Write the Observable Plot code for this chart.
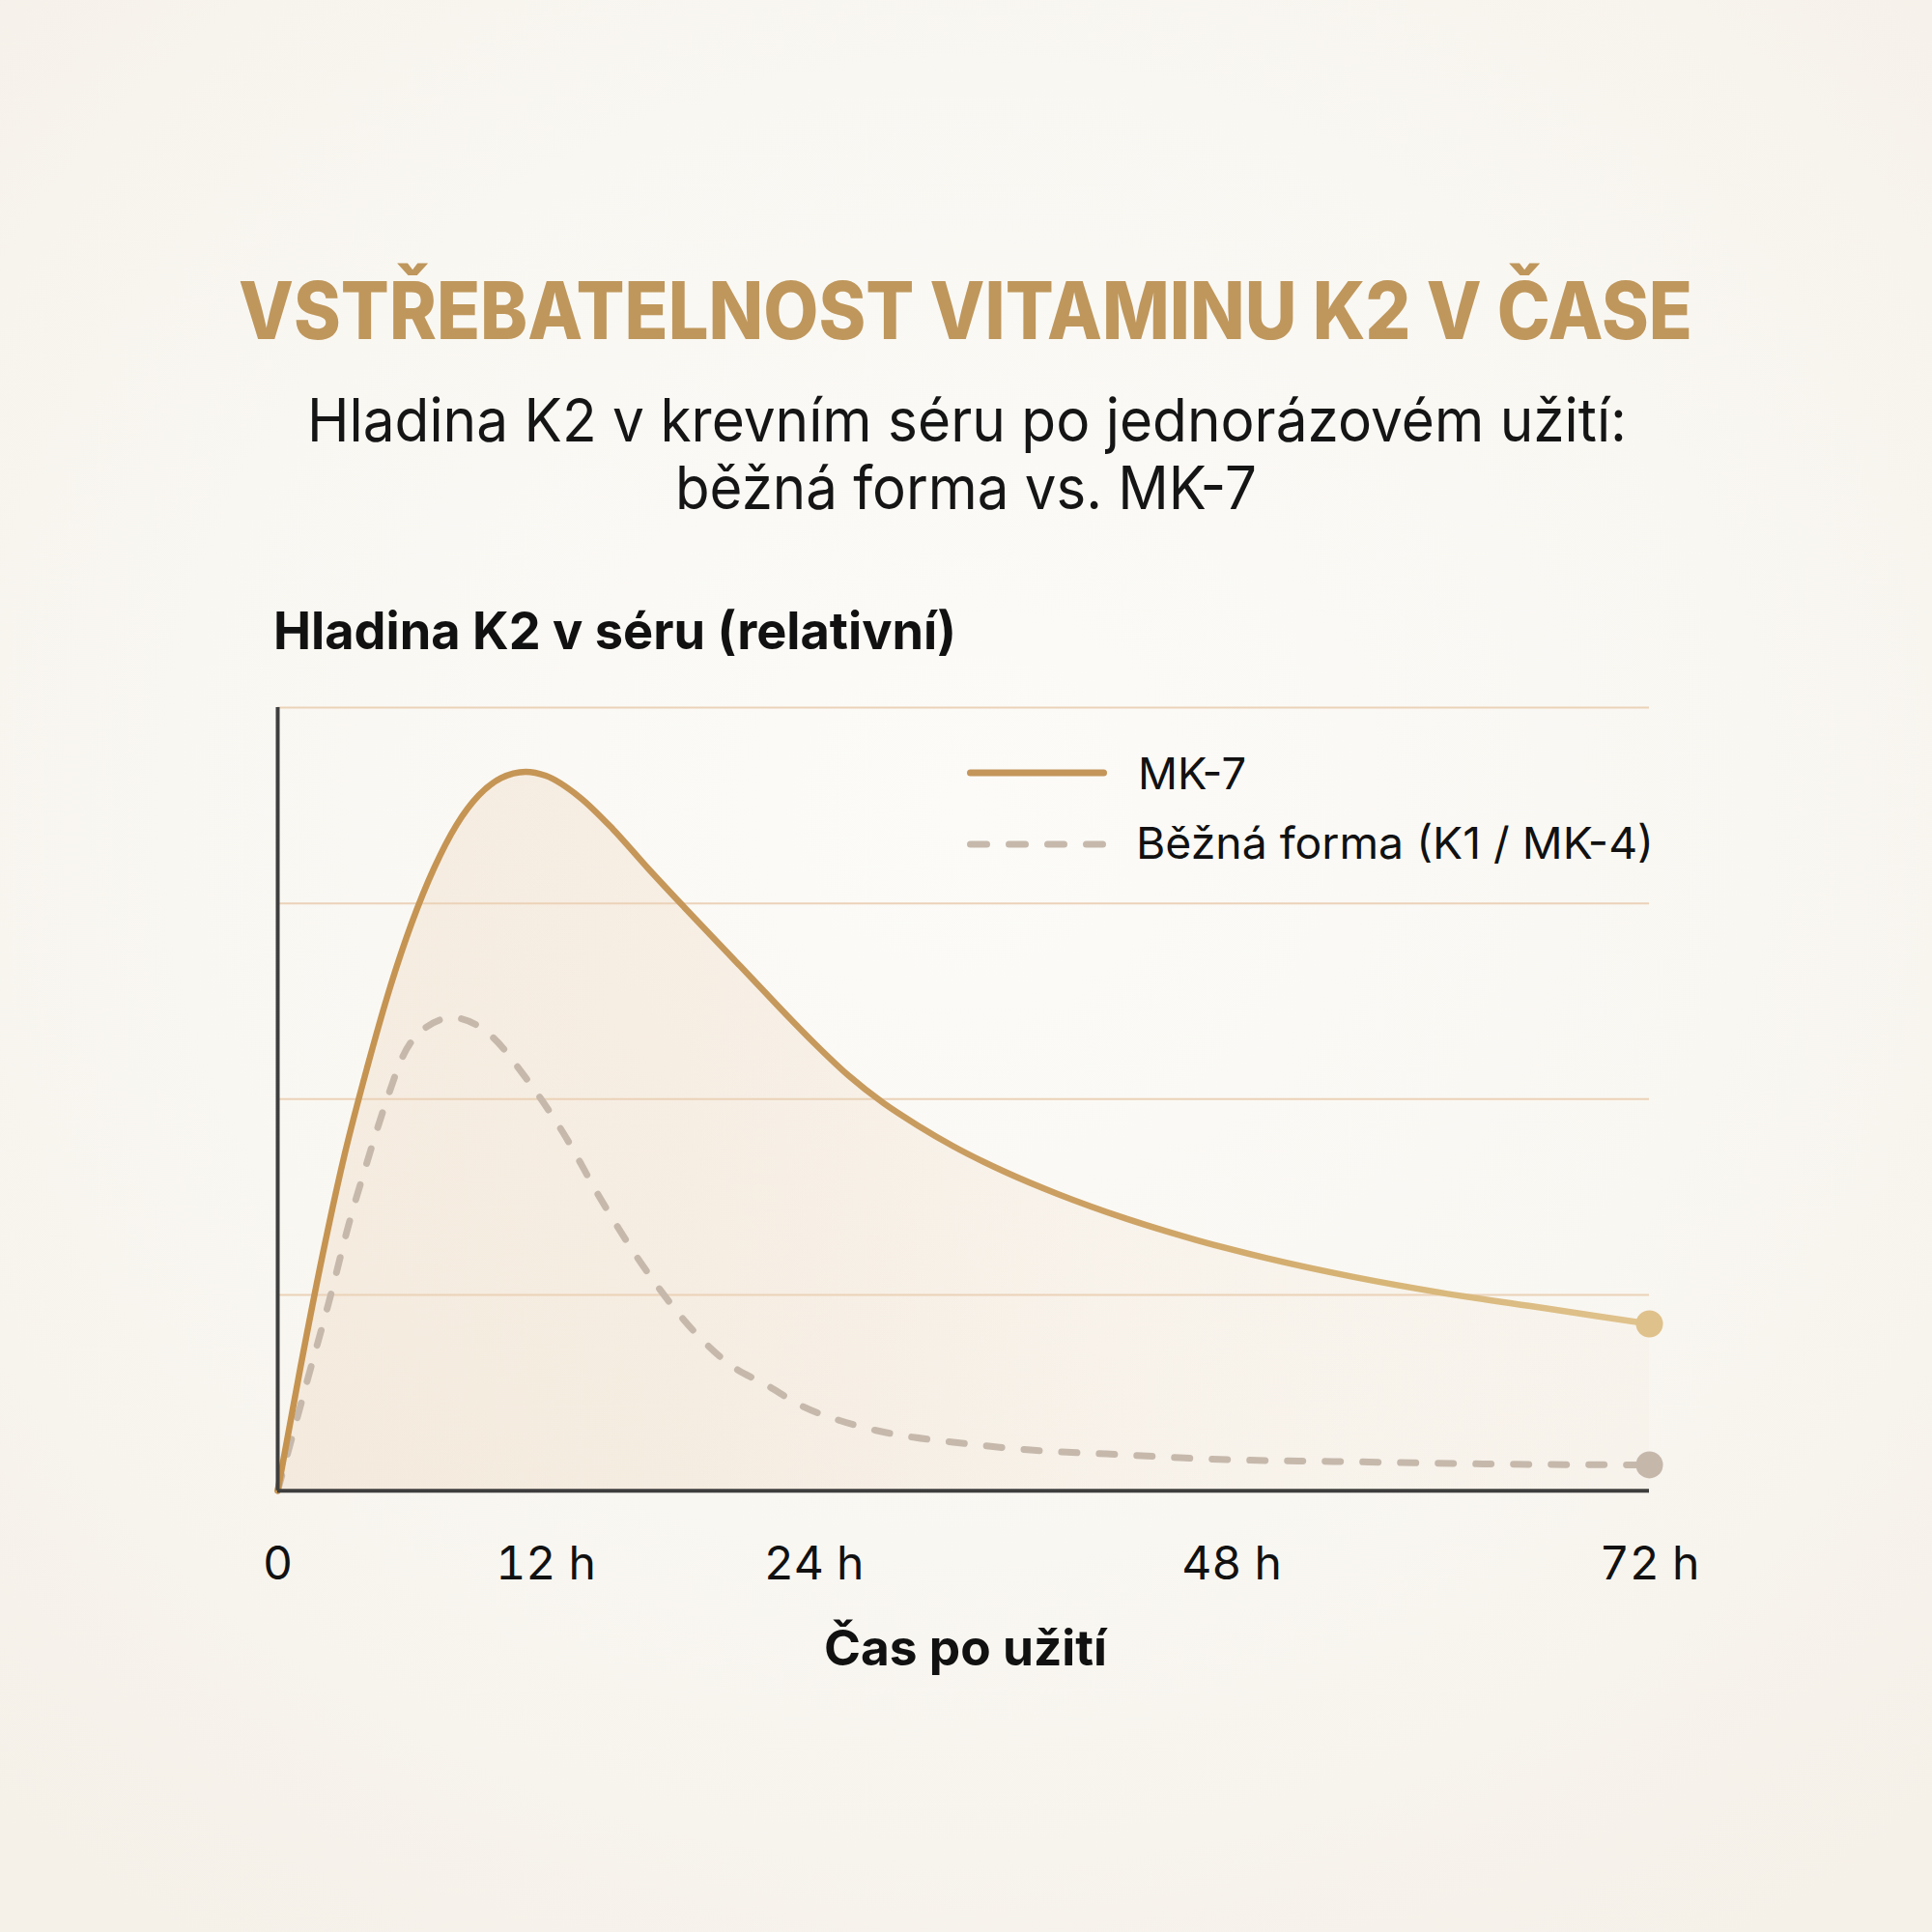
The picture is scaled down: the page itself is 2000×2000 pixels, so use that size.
<!DOCTYPE html>
<html>
<head>
<meta charset="utf-8">
<script src="https://cdn.jsdelivr.net/npm/d3@7"></script>
<script src="https://cdn.jsdelivr.net/npm/@observablehq/plot@0.6"></script>
<style>
  html, body { margin: 0; padding: 0; }
  body { width: 2000px; height: 2000px; overflow: hidden; font-family: Inter, "Noto Sans", sans-serif; }
  #page { position: relative; width: 2000px; height: 2000px;
    background: radial-gradient(ellipse 75% 70% at 50% 42%, #FCFBF8 0%, #F9F7F2 55%, #F5F0E8 100%); }
  .txt { position: absolute; white-space: nowrap; line-height: 1.2; transform-origin: 0 0; }
  #chart { position: absolute; left: 0; top: 600px; }
</style>
</head>
<body>
<div id="page">
  <div id="title" class="txt" style="font-weight:800;color:#BF975C;">VSTŘEBATELNOST VITAMINU K2 V ČASE</div>
  <div id="sub1" class="txt" style="font-weight:400;color:#151515;">Hladina K2 v krevním séru po jednorázovém užití:</div>
  <div id="sub2" class="txt" style="font-weight:400;color:#151515;">běžná forma vs. MK-7</div>
  <div id="ytitle" class="txt" style="font-weight:700;color:#111;">Hladina K2 v séru (relativní)</div>
  <div id="chart"></div>
  <div id="xtitle" class="txt" style="font-weight:700;color:#111;">Čas po užití</div>
  <div id="leg1" class="txt" style="font-weight:400;color:#111;"></div>
  <div id="leg2" class="txt" style="font-weight:400;color:#111;"></div>
</div>
<script>
// ---- data ----
const mk7Hours = [0, 1, 2, 3, 4, 5, 6, 7, 8, 9, 10, 11.1, 12, 13.5, 15, 16.6, 18.2, 20, 21.5, 23, 24, 26, 28, 30, 32, 35, 38, 42, 46, 50, 55, 60, 66, 72];
const mk7Level = [0, 15.5, 30, 43, 54, 64, 72.5, 79.5, 85, 88.8, 91, 91.8, 91.3, 88.6, 84.5, 79.4, 74.5, 69.1, 64.6, 60.1, 57.2, 53.0, 49.5, 46.6, 44.0, 40.7, 37.9, 34.7, 32.0, 29.7, 27.3, 25.3, 23.3, 21.3];

const commonHours = [0, 1.27, 2.42, 3.14, 3.94, 4.87, 5.59, 6.6, 7.83, 9.63, 10.93, 12.8, 14.53, 16.55, 18.85, 20.29, 21.88, 23.47, 25.44, 27.57, 29.79, 32.01, 36.45, 40.8, 47.37, 55, 63.3, 72];
const commonLevel = [0, 13.5, 25.5, 33.6, 41.4, 49.8, 55.4, 59.1, 60.4, 57.9, 53.4, 45.6, 36.9, 27.9, 19.7, 16.0, 13.5, 10.8, 9.0, 7.7, 6.8, 6.2, 5.2, 4.7, 4.0, 3.7, 3.4, 3.3];

const tickHours = [0, 12, 24, 48, 72];
const tickLabels = ["0", "12 h", "24 h", "48 h", "72 h"];
const gridLevels = [25, 50, 75, 100];
const seriesNames = ["MK-7", "Běžná forma (K1 / MK-4)"];

const mk7 = mk7Hours.map((h, i) => ({hour: h, level: mk7Level[i]}));
const common = commonHours.map((h, i) => ({hour: h, level: commonLevel[i]}));

const gold = "#C4965A";
const taupe = "#C6B9AC";

const chart = Plot.plot({
  width: 2000,
  height: 1200,
  marginLeft: 287, marginRight: 293, marginTop: 132, marginBottom: 257,
  x: {type: "linear", domain: [0, 24, 72], range: [287, 842, 1707], axis: null, label: null},
  y: {domain: [0, 100], range: [942.7, 132], axis: null, label: null},
  style: {background: "transparent", fontFamily: "Inter, 'Noto Sans', sans-serif", color: "#111", overflow: "visible"},
  marks: [
    Plot.areaY(mk7, {x: "hour", y: "level", curve: "monotone-x", fill: "url(#areagrad)"}),
    Plot.gridY(gridLevels, {stroke: "#EBD2B8", strokeOpacity: 1, strokeWidth: 2}),
    Plot.line(common, {x: "hour", y: "level", curve: "monotone-x", stroke: taupe, strokeWidth: 7, strokeDasharray: "16,23", strokeLinecap: "round"}),
    Plot.line(mk7, {x: "hour", y: "level", curve: "monotone-x", stroke: "url(#mk7grad)", strokeWidth: 6.5, strokeLinecap: "round"}),
    Plot.dot(mk7, Plot.selectLast({x: "hour", y: "level", r: 14, fill: "#DFC18B", stroke: "none"})),
    Plot.dot(common, Plot.selectLast({x: "hour", y: "level", r: 14, fill: "#C5B8AB", stroke: "none"})),
    Plot.ruleX([0], {y1: 0, y2: 100, stroke: "#3E3E3E", strokeWidth: 4}),
    Plot.ruleY([0], {stroke: "#3E3E3E", strokeWidth: 4}),
    Plot.axisX(tickHours, {
      tickFormat: d => tickLabels[tickHours.indexOf(d)],
      tickSize: 0, tickPadding: 57, fontSize: 48, fill: "#111", label: null
    })
  ]
});

// gradients for the MK-7 stroke and its area
const ns = "http://www.w3.org/2000/svg";
const defs = document.createElementNS(ns, "defs");
defs.innerHTML = `<linearGradient id="mk7grad" gradientUnits="userSpaceOnUse" x1="287" y1="0" x2="1707" y2="0">
  <stop offset="0" stop-color="#C6934F"/>
  <stop offset="0.35" stop-color="#C5985C"/>
  <stop offset="0.6" stop-color="#CCA062"/>
  <stop offset="0.8" stop-color="#D7B577"/>
  <stop offset="1" stop-color="#E0C38E"/>
</linearGradient>
<linearGradient id="areagrad" gradientUnits="userSpaceOnUse" x1="287" y1="0" x2="1707" y2="0">
  <stop offset="0" stop-color="#E8C6A4" stop-opacity="0.24"/>
  <stop offset="0.3" stop-color="#E8C6A4" stop-opacity="0.22"/>
  <stop offset="0.6" stop-color="#E8C6A4" stop-opacity="0.12"/>
  <stop offset="1" stop-color="#E8C6A4" stop-opacity="0.06"/>
</linearGradient>`;
chart.insertBefore(defs, chart.firstChild);
document.getElementById("chart").appendChild(chart);

// legend swatches (SVG overlay)
const leg = document.createElementNS(ns, "svg");
leg.setAttribute("width", 2000); leg.setAttribute("height", 2000);
leg.style.position = "absolute"; leg.style.left = "0"; leg.style.top = "0"; leg.style.pointerEvents = "none";
leg.innerHTML = `<line x1="1004.5" x2="1142.5" y1="800" y2="800" stroke="${gold}" stroke-width="7" stroke-linecap="round"/>
<line x1="1004.5" x2="1145" y1="874" y2="874" stroke="${taupe}" stroke-width="7" stroke-linecap="round" stroke-dasharray="17,23"/>`;
document.getElementById("page").appendChild(leg);

document.getElementById("leg1").textContent = seriesNames[0];
document.getElementById("leg2").textContent = seriesNames[1];

// text placement: font size from cap height, footprint width via scaleX
function place(id, {x, anchor = "start", baseline, cap, width}) {
  const el = document.getElementById(id);
  el.style.fontSize = (cap / 0.727) + "px";
  el.style.left = "0px"; el.style.top = "0px";
  let w = el.getBoundingClientRect().width;
  let s = 1;
  if (width) {
    s = width / w;
    if (s < 0.9 || s > 1.1) {
      const c = Math.max(0.9, Math.min(1.1, s));
      el.style.fontSize = (cap / 0.727) * (s / c) + "px";
      w = el.getBoundingClientRect().width;
      s = width / w;
    }
  }
  const probe = document.createElement("span");
  probe.style.cssText = "display:inline-block;width:0;height:0;vertical-align:baseline";
  el.appendChild(probe);
  const top0 = el.getBoundingClientRect().top;
  const b = probe.getBoundingClientRect().top - top0;
  el.style.top = (baseline - b) + "px";
  const fw = w * s;
  el.style.left = (anchor === "middle" ? x - fw / 2 : x) + "px";
  el.style.transform = `scaleX(${s})`;
}

place("title", {x: 999, anchor: "middle", baseline: 351, cap: 60, width: 1505});
place("sub1", {x: 1001, anchor: "middle", baseline: 457, cap: 45, width: 1366});
place("sub2", {x: 1000, anchor: "middle", baseline: 527, cap: 45, width: 602});
place("ytitle", {x: 283, baseline: 672, cap: 39, width: 707});
place("xtitle", {x: 999, anchor: "middle", baseline: 1724, cap: 37, width: 293});
place("leg1", {x: 1178, baseline: 817, cap: 33});
place("leg2", {x: 1176, baseline: 889, cap: 33, width: 536});
</script>
</body>
</html>
